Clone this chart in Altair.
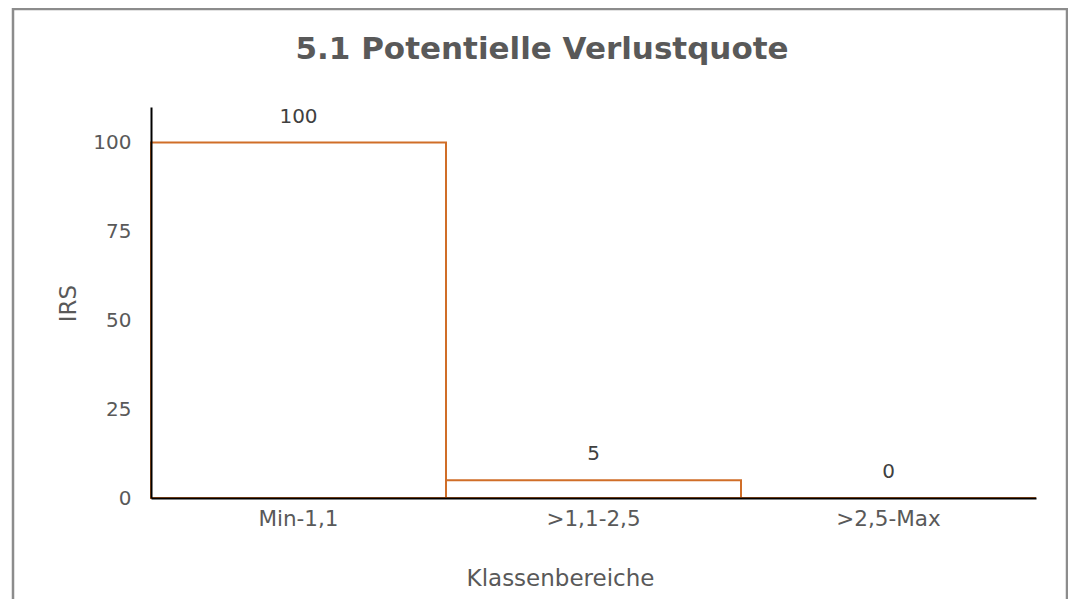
import altair as alt
import pandas as pd

categories = ["Min-1,1", ">1,1-2,5", ">2,5-Max"]
values = [100, 5, 0]
y_ticks = [0, 25, 50, 75, 100]
title_text = "5.1 Potentielle Verlustquote"
x_title = "Klassenbereiche"
y_title = "IRS"

df = pd.DataFrame({"cat": categories, "val": values})

FONT = "DejaVu Sans"
ORANGE = "#D06E28"
GRAY = "#595959"

x_enc = alt.X(
    "cat:N",
    sort=categories,
    scale=alt.Scale(paddingInner=0, paddingOuter=0),
    axis=alt.Axis(
        title=x_title, labelAngle=0, ticks=False, domainColor="black", domainWidth=2,
        labelColor=GRAY, labelFontSize=21.5, labelFont=FONT, labelPadding=10,
        titleColor=GRAY, titleFontSize=23, titleFont=FONT, titleFontWeight="normal",
        titleX=409, titleY=80, titleBaseline="middle", titleAlign="center", zindex=1,
    ),
)
y_enc = alt.Y(
    "val:Q",
    scale=alt.Scale(domain=[0, 110], nice=False),
    axis=alt.Axis(
        title=y_title, values=y_ticks, grid=False, ticks=False, domainColor="black",
        domainWidth=2, labelColor=GRAY, labelFontSize=20, labelFont=FONT, labelPadding=20,
        titleColor=GRAY, titleFontSize=23, titleFont=FONT, titleFontWeight="normal",
        titleX=-83, titleY=196, titleAngle=270, titleBaseline="middle", titleAlign="center",
        zindex=1,
    ),
)

bars = alt.Chart(df).mark_bar(fill="white", fillOpacity=0, stroke=ORANGE, strokeWidth=2).encode(
    x=x_enc, y=y_enc
)
labels = alt.Chart(df).mark_text(
    font=FONT, fontSize=20, color="#404040", baseline="middle", dy=-26
).encode(x=alt.X("cat:N", sort=categories), y="val:Q", text="val:Q")

title = alt.Chart(pd.DataFrame({"t": [title_text]})).mark_text(
    font=FONT, fontSize=31, fontWeight="bold", color=GRAY, align="center", baseline="alphabetic"
).encode(x=alt.value(391), y=alt.value(-48), text="t:N")

border = alt.Chart(pd.DataFrame({"b": [1]})).mark_rect(
    fill=None, stroke="#8C8C8C", strokeWidth=2.5, clip=False
).encode(x=alt.value(-138), x2=alt.value(916), y=alt.value(-98), y2=alt.value(600))

chart = alt.layer(border, bars, labels, title).properties(
    width=885, height=391,
    autosize=alt.AutoSizeParams(type="none"),
    padding={"left": 143, "top": 99, "right": 32, "bottom": 101},
).configure_view(stroke=None)

chart.save("out.html", embed_options={"renderer": "svg", "actions": False})
